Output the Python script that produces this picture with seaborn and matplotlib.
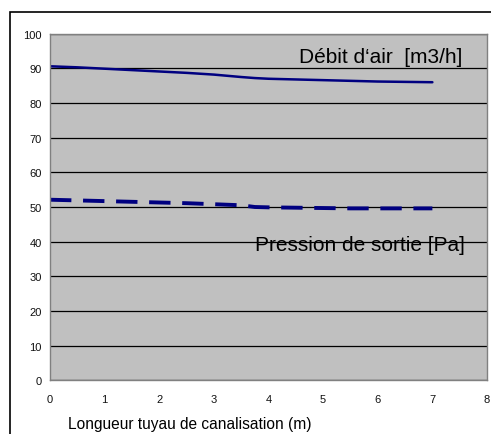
import matplotlib
matplotlib.use("Agg")
import matplotlib.pyplot as plt
import seaborn as sns
import pandas as pd
from matplotlib.patches import Rectangle

# %% Data
longueur = [0, 0.5, 1, 1.5, 2, 2.5, 3, 3.5, 3.75, 4, 4.5, 5, 5.5, 6, 6.5, 7]
debit_air = [90.6, 90.3, 89.9, 89.5, 89.1, 88.7, 88.2, 87.5, 87.2, 87.0, 86.8, 86.6, 86.4, 86.2, 86.1, 86.0]
pression = [52.1, 51.9, 51.7, 51.5, 51.3, 51.1, 50.8, 50.5, 50.0, 49.9, 49.8, 49.7, 49.6, 49.6, 49.6, 49.6]

df = pd.DataFrame({"longueur": longueur, "debit": debit_air, "pression": pression})

# %% Style
sns.set_style("white", {"axes.facecolor": "#C0C0C0", "text.color": "black"})
plt.rcParams["font.family"] = ["Liberation Sans", "DejaVu Sans"]

fig = plt.figure(figsize=(4.91, 4.35), dpi=100)
ax = fig.add_axes([50 / 491, 1 - 381.3 / 435, 437 / 491, 346.6 / 435])

# outer chart frame
fig.patches.append(Rectangle((10 / 491, -0.05), 1.2, 1 - 12.5 / 435 + 0.05,
                             transform=fig.transFigure, fill=False,
                             edgecolor="black", linewidth=1.2))

sns.lineplot(data=df, x="longueur", y="debit", color="#000080", linewidth=1.8, ax=ax)
sns.lineplot(data=df, x="longueur", y="pression", color="#000080", linewidth=2.8,
             ax=ax, dashes=False)
ax.lines[-1].set_dashes([5.5, 3])

ax.set_xlim(0, 8)
ax.set_ylim(0, 100)
ax.set_xticks(range(0, 9))
ax.set_yticks(range(0, 101, 10))
ax.yaxis.grid(True, color="black", linewidth=0.9)
ax.set_axisbelow(True)
ax.tick_params(axis="both", direction="out", length=3, width=0.8, color="#606060",
               labelsize=8, labelcolor="#111111", pad=3)
ax.tick_params(axis="x", pad=7)
for side in ["left", "bottom", "top", "right"]:
    ax.spines[side].set_visible(True)
    ax.spines[side].set_color("#808080")
    ax.spines[side].set_linewidth(1.0)
ax.set_xlabel("")
ax.set_ylabel("")

ax.text(7.55, 93.3, "Débit d\u2018air  [m3/h]", ha="right", va="center", fontsize=15,
        color="black")
ax.text(7.6, 39.3, "Pression de sortie [Pa]", ha="right", va="center", fontsize=15,
        color="black")
fig.text(68 / 491, 1 - 425 / 435, "Longueur tuyau de canalisation (m)", ha="left",
         va="center", fontsize=11.2, color="black")

fig.savefig("out.png", dpi=100)
